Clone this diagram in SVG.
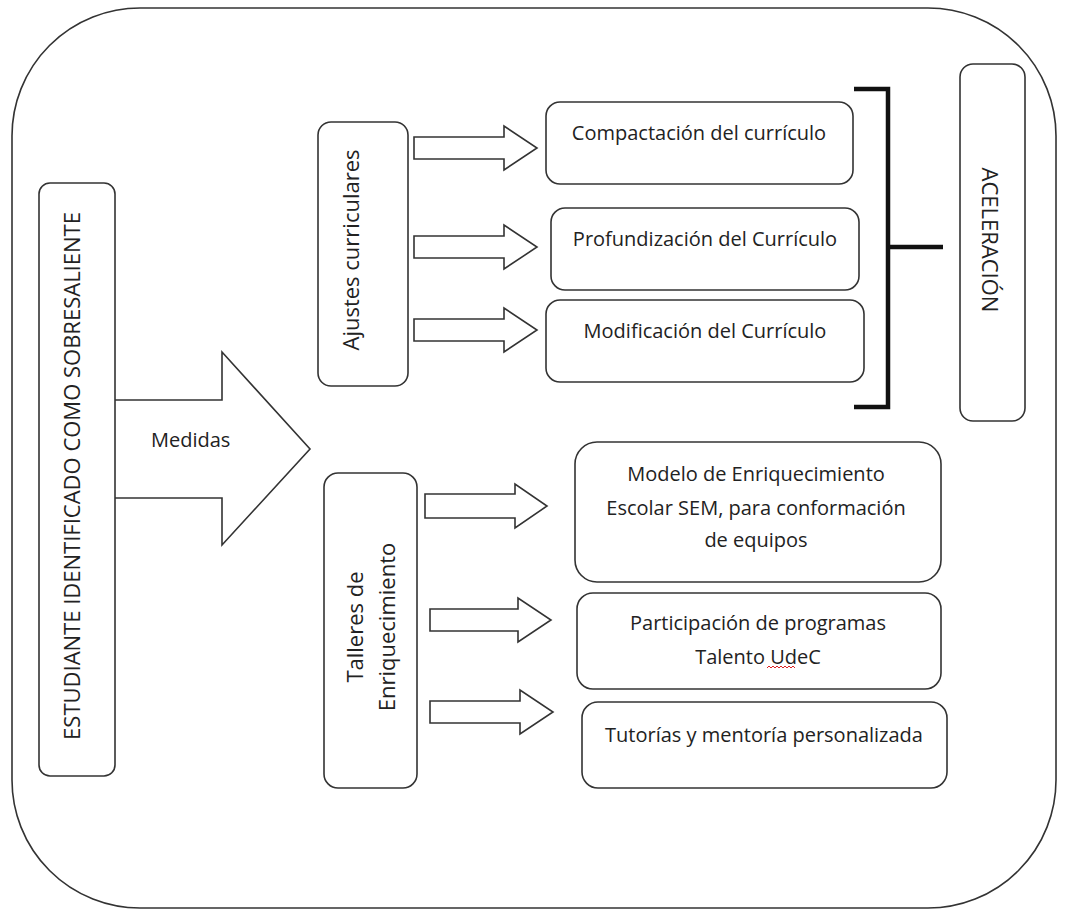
<svg xmlns="http://www.w3.org/2000/svg" width="1068" height="913" viewBox="0 0 1068 913">
<style>
.box{fill:#fff;stroke:#333;stroke-width:1.6}
.arr{fill:#fff;stroke:#333;stroke-width:1.6;stroke-linejoin:miter}
.t{font-family:"Open Sans","DejaVu Sans",sans-serif;font-size:20px;fill:#222}
.tb{font-family:"Open Sans","DejaVu Sans",sans-serif;font-size:22px;fill:#222}
.br{fill:none;stroke:#111;stroke-width:4.5}
</style>
<rect width="1068" height="913" fill="#fff"/>
<rect id="frame" x="12" y="8" width="1044" height="900" rx="128" ry="128" class="box"/>
<g id="connectors">
<path class="arr" d="M115,400 L222,400 L222,352 L310,449 L222,545 L222,498 L115,498"/>
<path class="arr" d="M414,137 L504,137 L504,126 L537,148 L504,170 L504,159 L414,159 Z"/>
<path class="arr" d="M414,236 L504,236 L504,225 L537,247 L504,269 L504,258 L414,258 Z"/>
<path class="arr" d="M414,319 L504,319 L504,308 L537,330 L504,352 L504,341 L414,341 Z"/>
<path class="arr" d="M425,494 L515,494 L515,484 L547,506 L515,528 L515,518 L425,518 Z"/>
<path class="arr" d="M430,609 L518,609 L518,598 L551,620 L518,642 L518,631 L430,631 Z"/>
<path class="arr" d="M430,701 L520,701 L520,690 L553,712 L520,734 L520,723 L430,723 Z"/>
<path class="br" d="M854,89 L888,89 L888,407 L854,407 M888,247 L943,247"/>
</g>
<g id="medidas"><text class="t" x="151" y="447">Medidas</text></g>
<g id="estudiante">
<rect class="box" x="39" y="183" width="76" height="593" rx="11"/>
<text class="tb" transform="translate(80,476) rotate(-90)" text-anchor="middle">ESTUDIANTE IDENTIFICADO COMO SOBRESALIENTE</text>
</g>
<g id="ajustes">
<rect class="box" x="318" y="122" width="90" height="264" rx="13"/>
<text class="tb" transform="translate(359,250) rotate(-90)" text-anchor="middle">Ajustes curriculares</text>
</g>
<g id="compactacion">
<rect class="box" x="546" y="102" width="307" height="82" rx="14"/>
<text class="t" x="699" y="140" text-anchor="middle">Compactación del currículo</text>
</g>
<g id="profundizacion">
<rect class="box" x="551" y="208" width="308" height="82" rx="14"/>
<text class="t" x="705" y="246" text-anchor="middle">Profundización del Currículo</text>
</g>
<g id="modificacion">
<rect class="box" x="546" y="300" width="318" height="82" rx="14"/>
<text class="t" x="705" y="338" text-anchor="middle">Modificación del Currículo</text>
</g>
<g id="aceleracion">
<rect class="box" x="960" y="64" width="65" height="357" rx="13"/>
<text class="tb" transform="translate(982,240) rotate(90)" text-anchor="middle">ACELERACIÓN</text>
</g>
<g id="talleres">
<rect class="box" x="324" y="473" width="93" height="315" rx="14"/>
<text class="tb" transform="translate(363,627) rotate(-90)" text-anchor="middle">Talleres de</text>
<text class="tb" transform="translate(395,627) rotate(-90)" text-anchor="middle">Enriquecimiento</text>
</g>
<g id="modelo">
<rect class="box" x="575" y="442" width="366" height="140" rx="22"/>
<text class="t" x="756" y="481" text-anchor="middle">Modelo de Enriquecimiento</text>
<text class="t" x="756" y="515" text-anchor="middle">Escolar SEM, para conformación</text>
<text class="t" x="756" y="547" text-anchor="middle">de equipos</text>
</g>
<g id="participacion">
<rect class="box" x="577" y="593" width="364" height="96" rx="16"/>
<text class="t" x="758" y="630" text-anchor="middle">Participación de programas</text>
<text class="t" x="758" y="664" text-anchor="middle">Talento UdeC</text>
<path d="M767,668 l2,-2 l2,2 l2,-2 l2,2 l2,-2 l2,2 l2,-2 l2,2 l2,-2 l2,2 l2,-2 l2,2 l2,-2 l2,2" fill="none" stroke="#d22" stroke-width="1"/>
</g>
<g id="tutorias">
<rect class="box" x="582" y="702" width="365" height="86" rx="16"/>
<text class="t" x="764" y="742" text-anchor="middle">Tutorías y mentoría personalizada</text>
</g>
</svg>
